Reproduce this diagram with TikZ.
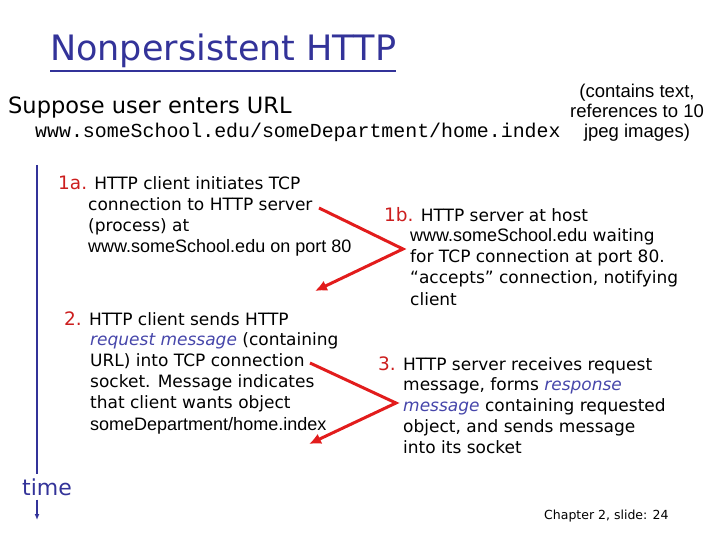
\documentclass[tikz,border=0pt]{standalone}
\usepackage{fontspec}
\setmainfont{DejaVu Sans}
\setmonofont{Liberation Mono}
\newfontfamily\arialfont{Liberation Sans}
\usetikzlibrary{arrows.meta,positioning}
\definecolor{slideblue}{RGB}{51,51,153}
\definecolor{numred}{RGB}{204,30,30}
\definecolor{arrowred}{RGB}{226,28,28}
\definecolor{termblue}{RGB}{70,70,170}
\newcommand{\num}[1]{\textcolor{numred}{\fontsize{18.5}{21.2}\selectfont #1}}
\newcommand{\term}[1]{\textcolor{termblue}{\itshape #1}}
\newcommand{\arial}[1]{{\arialfont\fontsize{18}{21.2}\selectfont #1}}

\begin{document}
\begin{tikzpicture}[x=1pt, y=-1pt]
	\tikzstyle{plain} = [anchor=base west, inner sep=0]
	\tikzstyle{head} = [plain, font=\fontsize{17}{21.2}\selectfont]
	\tikzstyle{body} = [anchor=north west, inner sep=0, align=left, font=\fontsize{17}{21.2}\selectfont, execute at begin node=\strut]
	\tikzstyle{line} = [draw, arrowred, line width=3pt, -{Latex[length=12pt,width=11pt]}]
	\tikzstyle{timeline} = [draw, slideblue, line width=2.5pt]
	\useasboundingbox (0,0) rectangle (720,540);
	% Place nodes
	\node [plain, text=slideblue, font=\fontsize{35}{40}\selectfont] (title) at (50,61) {Nonpersistent HTTP};
	\node [plain, font=\fontsize{22.5}{26}\selectfont] (suppose) at (8,114) {Suppose user enters URL};
	\node [plain, font=\ttfamily\fontsize{19.9}{24}\selectfont] (url) at (35,138) {www.someSchool.edu/someDepartment/home.index};
	\node [anchor=north, inner sep=0, align=center, font=\arialfont\fontsize{18.5}{19.6}\selectfont, execute at begin node=\strut] (contents) at (637,84.3) {(contains text,\\references to 10\\jpeg images)};
	\node [head] (head1a) at (58,190) {\num{1a.} HTTP client initiates TCP};
	\node [body] (body1a) at ([xshift=30pt,yshift=-7.2pt]head1a.base west) {connection to HTTP server\\(process) at\\\arial{www.someSchool.edu on port 80}};
	\node [head] (head1b) at (384,222) {\num{1b.} HTTP server at host};
	\node [body] (body1b) at ([xshift=26pt,yshift=-6.2pt]head1b.base west) {\arial{www.someSchool.edu} waiting\\for TCP connection at port 80.\\“accepts” connection, notifying\\client};
	\node [head] (head2) at (64,325) {\num{2.} HTTP client sends HTTP};
	\node [body] (body2) at ([xshift=26pt,yshift=-7.2pt]head2.base west) {\term{request message} (containing\\URL) into TCP connection\\socket. Message indicates\\that client wants object\\\arial{someDepartment/home.index}};
	\node [head] (head3) at (378,370) {\num{3.} HTTP server receives request};
	\node [body] (body3) at ([xshift=25pt,yshift=-7.2pt]head3.base west) {message, forms \term{response}\\\term{message} containing requested\\object, and sends message\\into its socket};
	\node [plain, inner ysep=4pt, text=slideblue, font=\fontsize{22}{26}\selectfont] (timelabel) at (22,495) {time};
	\node [plain, font=\fontsize{12.5}{15}\selectfont] (chapter) at (544,519) {Chapter 2, slide: 24};
	\coordinate (timetop) at (37,165);
	\coordinate (timeend) at (37,520);
	\coordinate (send1a) at (319,208);
	\coordinate (turn1b) at (403,249);
	\coordinate (back1a) at (315,291);
	\coordinate (send2) at (310,363);
	\coordinate (turn3) at (396,403);
	\coordinate (back2) at (309,444);
	% Draw edges
	\path [line] (send1a) -- (turn1b) -- (back1a);
	\path [line] (send2) -- (turn3) -- (back2);
	\draw [timeline] (timetop) -- (timetop |- timelabel.north);
	\draw [timeline, -{Latex[length=6pt,width=5pt]}] (timeend |- timelabel.south) -- (timeend);
	\draw [slideblue, line width=2pt] ([yshift=-10pt]title.base west) -- ([yshift=-10pt]title.base east);
\end{tikzpicture}
\end{document}
